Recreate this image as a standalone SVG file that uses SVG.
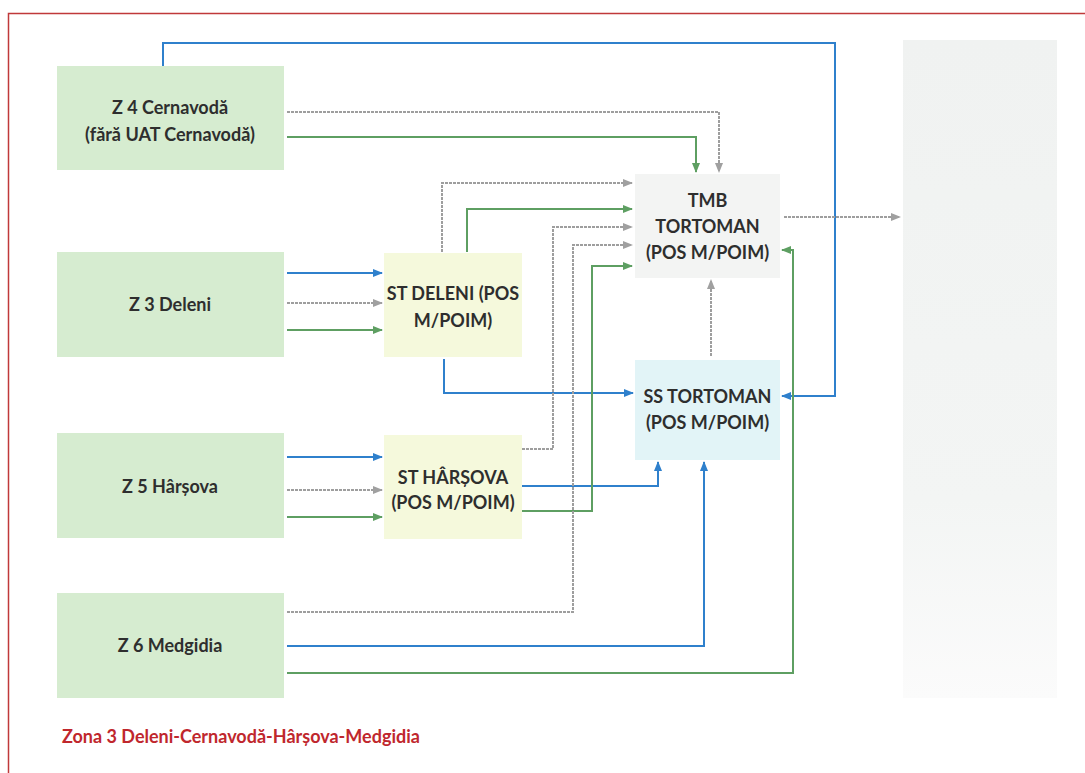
<svg xmlns="http://www.w3.org/2000/svg" width="1085" height="773" viewBox="0 0 1085 773">
<style>
.lbl{font-family:Lato,"Open Sans","Liberation Sans",sans-serif;font-weight:bold;font-size:18px;fill:#2e2e2e;text-anchor:middle;dominant-baseline:central}
.cap{font-family:Lato,"Open Sans","Liberation Sans",sans-serif;font-weight:bold;font-size:18px;fill:#c0272d}
.zone{fill:#d6ecd0}
.st{fill:#f5f9dc}
.b{fill:none;stroke:#2f80cc;stroke-width:2}
.g{fill:none;stroke:#5e9f62;stroke-width:2}
.y{fill:none;stroke:#9e9e9e;stroke-width:2;stroke-dasharray:3 1}
</style>
<defs>
<marker id="ab" markerUnits="userSpaceOnUse" markerWidth="10" markerHeight="10" refX="9" refY="5" orient="auto"><path d="M0,1 L10,5 L0,9 Z" fill="#2f80cc"/></marker>
<marker id="ag" markerUnits="userSpaceOnUse" markerWidth="10" markerHeight="10" refX="9" refY="5" orient="auto"><path d="M0,1 L10,5 L0,9 Z" fill="#5e9f62"/></marker>
<marker id="ay" markerUnits="userSpaceOnUse" markerWidth="10" markerHeight="10" refX="9" refY="5" orient="auto"><path d="M0,1 L10,5 L0,9 Z" fill="#a0a0a0"/></marker>
<linearGradient id="pg" x1="0" y1="0" x2="0" y2="1"><stop offset="0" stop-color="#f0f2f1"/><stop offset="0.7" stop-color="#f3f5f4"/><stop offset="1" stop-color="#fbfbfb"/></linearGradient>
</defs>
<rect width="1085" height="773" fill="#fff"/>
<path d="M8.5,773 V13.5 H1085" fill="none" stroke="#c0393a" stroke-width="1.5"/>
<rect x="903" y="40" width="154" height="658" fill="url(#pg)"/>

<g id="z4"><rect class="zone" x="57" y="66" width="227" height="104"/><text class="lbl" x="170" y="107">Z 4 Cernavodă</text><text class="lbl" x="170" y="134">(fără UAT Cernavodă)</text></g>
<g id="z3"><rect class="zone" x="57" y="252" width="227" height="105"/><text class="lbl" x="170" y="304">Z 3 Deleni</text></g>
<g id="z5"><rect class="zone" x="57" y="433" width="227" height="105"/><text class="lbl" x="170" y="486">Z 5 Hârșova</text></g>
<g id="z6"><rect class="zone" x="57" y="593" width="227" height="105"/><text class="lbl" x="170" y="645">Z 6 Medgidia</text></g>
<g id="stdeleni"><rect class="st" x="384" y="253" width="138" height="104"/><text class="lbl" x="453" y="293">ST DELENI (POS</text><text class="lbl" x="453" y="320">M/POIM)</text></g>
<g id="stharsova"><rect class="st" x="384" y="435" width="138" height="104"/><text class="lbl" x="453" y="477">ST HÂRȘOVA</text><text class="lbl" x="453" y="502">(POS M/POIM)</text></g>
<g id="tmb"><rect x="635" y="174" width="145" height="104" fill="#f3f4f3"/><text class="lbl" x="707.5" y="200">TMB</text><text class="lbl" x="707.5" y="226">TORTOMAN</text><text class="lbl" x="707.5" y="252">(POS M/POIM)</text></g>
<g id="ss"><rect x="635" y="360" width="145" height="100" fill="#e2f4f7"/><text class="lbl" x="707.5" y="396">SS TORTOMAN</text><text class="lbl" x="707.5" y="422">(POS M/POIM)</text></g>

<g id="connectors">
<path class="b" d="M163,66 V43 H835 V396 H782" marker-end="url(#ab)"/>
<path class="b" d="M287,273 H382" marker-end="url(#ab)"/>
<path class="b" d="M444,359 V393 H633" marker-end="url(#ab)"/>
<path class="b" d="M287,457 H382" marker-end="url(#ab)"/>
<path class="b" d="M522,486 H658 V462" marker-end="url(#ab)"/>
<path class="b" d="M287,646 H704 V462" marker-end="url(#ab)"/>

<path class="g" d="M287,137 H696 V172" marker-end="url(#ag)"/>
<path class="g" d="M287,330 H382" marker-end="url(#ag)"/>
<path class="g" d="M467,252 V209 H632" marker-end="url(#ag)"/>
<path class="g" d="M287,517 H382" marker-end="url(#ag)"/>
<path class="g" d="M522,511 H592 V266 H632" marker-end="url(#ag)"/>
<path class="g" d="M287,673 H793 V250 H782" marker-end="url(#ag)"/>

<path class="y" d="M287,112 H719 V172" marker-end="url(#ay)"/>
<path class="y" d="M287,303 H382" marker-end="url(#ay)"/>
<path class="y" d="M442,252 V183 H632" marker-end="url(#ay)"/>
<path class="y" d="M287,490 H382" marker-end="url(#ay)"/>
<path class="y" d="M522,449 H553 V227 H632" marker-end="url(#ay)"/>
<path class="y" d="M287,612 H573 V245 H632" marker-end="url(#ay)"/>
<path class="y" d="M711,356 V280" marker-end="url(#ay)"/>
<path class="y" d="M784,217 H900" marker-end="url(#ay)"/>
</g>
<text class="cap" x="62" y="743">Zona 3 Deleni-Cernavodă-Hârșova-Medgidia</text>
</svg>
